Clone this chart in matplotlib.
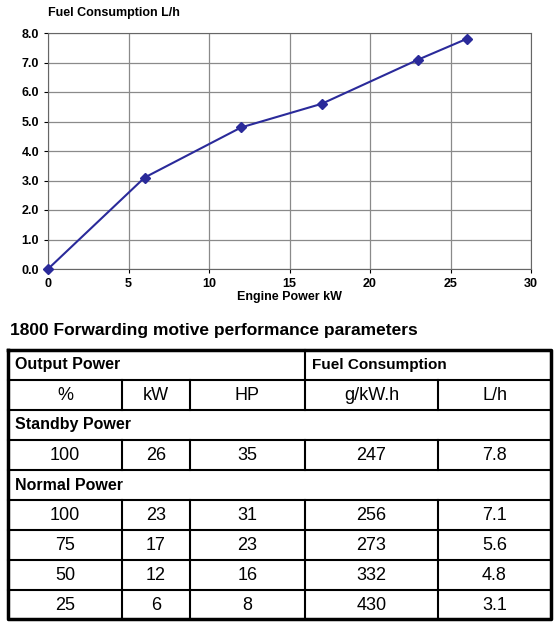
import matplotlib
matplotlib.use("Agg")
import matplotlib.pyplot as plt
plt.rcParams['font.family'] = ['Liberation Sans', 'DejaVu Sans']

power_kw = [0, 6, 12, 17, 23, 26]
fuel_lh = [0, 3.1, 4.8, 5.6, 7.1, 7.8]
header1 = ["Output Power", "Fuel Consumption"]
header2 = ["%", "kW", "HP", "g/kW.h", "L/h"]
standby_rows = [["100", "26", "35", "247", "7.8"]]
normal_rows = [["100", "23", "31", "256", "7.1"],
               ["75", "17", "23", "273", "5.6"],
               ["50", "12", "16", "332", "4.8"],
               ["25", "6", "8", "430", "3.1"]]

W, H = 560, 625
fig = plt.figure(figsize=(W/100, H/100), dpi=100)
ax = fig.add_axes([48/W, 1-269/H, (531-48)/W, (269-33)/H])
ax.plot(power_kw, fuel_lh, color="#2a2a9a", marker="D", markersize=5, lw=1.5, clip_on=False, zorder=3)
ax.set_xlim(0, 30); ax.set_ylim(0, 8)
ax.set_xticks(range(0, 31, 5)); ax.set_yticks([i for i in range(9)])
ax.set_yticklabels([f"{i:.1f}" for i in range(9)])
ax.grid(True, color="#8a8a8a", lw=0.9)
ax.tick_params(labelsize=9, length=3)
for t in ax.get_xticklabels()+ax.get_yticklabels(): t.set_fontweight("bold")
for s in ax.spines.values(): s.set_color("#666666")
ax.set_xlabel("Engine Power kW", fontsize=9, fontweight="bold", labelpad=1)
fig.text(48/W, 1-13/H, "Fuel Consumption L/h", fontsize=9, fontweight="bold", va="center")

ov = fig.add_axes([0, 0, 1, 1]); ov.set_xlim(0, W); ov.set_ylim(H, 0); ov.axis("off")
ov.text(10, 330, "1800 Forwarding motive performance parameters", fontsize=12.5, fontweight="bold",
        va="center")
cols = [8, 122, 190, 305, 438, 551]
rows = [350 + 30*i for i in range(10)]
rows[-1] = 619
lw = 1.5
ov.plot([cols[0], cols[-1], cols[-1], cols[0], cols[0]], [rows[0], rows[0], rows[-1], rows[-1], rows[0]], color="k", lw=2.5)
for y in rows[1:-1]:
    ov.plot([cols[0], cols[-1]], [y, y], color="k", lw=lw)
ov.plot([305, 305], [rows[0], rows[1]], color="k", lw=lw)
for ri in [1, 3, 5, 6, 7, 8]:
    for x in cols[1:-1]:
        ov.plot([x, x], [rows[ri], rows[ri+1]], color="k", lw=lw)
ov.text(cols[0]+7, (rows[0]+rows[1])/2, header1[0], fontsize=11.5, fontweight="bold", va="center")
ov.text(cols[3]+7, (rows[0]+rows[1])/2, header1[1], fontsize=11, fontweight="bold", va="center")
def row(vals, ri):
    for i, v in enumerate(vals):
        ov.text((cols[i]+cols[i+1])/2, (rows[ri]+rows[ri+1])/2+1, v, fontsize=13, ha="center", va="center")
row(header2, 1)
ov.text(cols[0]+7, (rows[2]+rows[3])/2, "Standby Power", fontsize=11.5, fontweight="bold", va="center")
row(standby_rows[0], 3)
ov.text(cols[0]+7, (rows[4]+rows[5])/2, "Normal Power", fontsize=11.5, fontweight="bold", va="center")
for k, r in enumerate(normal_rows):
    row(r, 5+k)
fig.savefig("out.png", dpi=100)
